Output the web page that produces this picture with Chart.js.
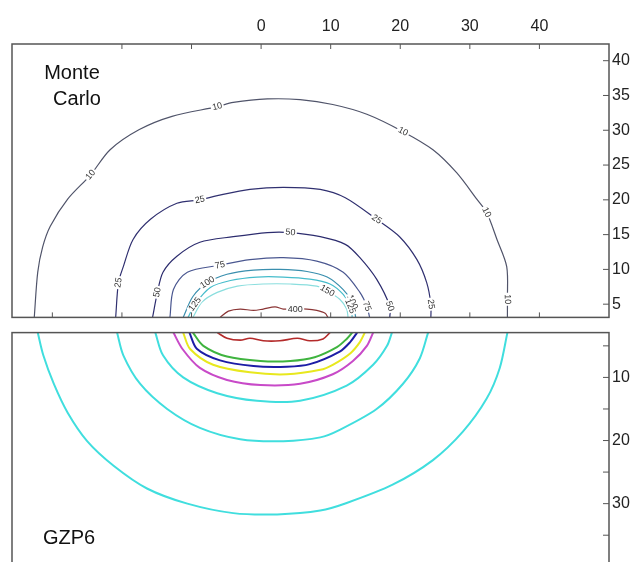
<!DOCTYPE html>
<html>
<head>
<meta charset="utf-8">
<script src="https://cdn.jsdelivr.net/npm/chart.js@4.4.1/dist/chart.umd.min.js"></script>
<style>
  html, body { margin: 0; padding: 0; background: #fff; overflow: hidden; }
  #quadro { position: relative; width: 639px; height: 562px; overflow: hidden; }
  #topo { position: absolute; left: 0; top: 0; }
  #baixo { position: absolute; left: 0; top: 320px; }
</style>
</head>
<body>
<div id="quadro">
  <canvas id="topo" width="639" height="330"></canvas>
  <canvas id="baixo" width="639" height="260"></canvas>
</div>
<script>
// Monte Carlo (painel de cima): curvas de isodose [x, profundidade]
const mcNiveis = [10, 25, 50, 75, 100, 125, 150, 400];
const mc10 = [[-32.6,3.1],[-32.1,9.6],[-31.4,13.2],[-30.3,16.2],[-27.8,20.1],[-24.5,23.6],[-21.7,27.2],[-17.5,30.1],[-12.8,32.0],[-6.3,33.4],[-4.0,34.0],[0.9,34.5],[5.6,34.4],[10.3,33.7],[15.2,32.3],[20.4,29.8],[24.7,27.2],[28.1,23.9],[31.0,20.1],[32.4,18.2],[33.9,14.3],[35.3,10.4],[35.4,5.7],[35.4,3.1]];
const mc25 = [[-20.9,3.1],[-20.5,8.1],[-19.8,10.4],[-18.4,14.3],[-15.9,17.2],[-12.1,19.5],[-8.8,20.0],[-6.3,20.6],[-1.6,21.5],[3.2,21.8],[8.5,21.5],[12.1,20.3],[16.6,17.2],[19.9,14.7],[22.4,11.4],[23.8,8.1],[24.4,5.0],[24.4,3.1]];
const mc50 = [[-15.6,3.1],[-14.9,6.7],[-14.1,9.6],[-12.1,11.9],[-8.8,13.9],[-4.0,14.7],[0.9,15.3],[4.2,15.3],[8.5,14.7],[12.1,13.6],[14.2,11.7],[16.6,8.6],[18.5,4.7],[18.5,3.1]];
const mc75 = [[-13.1,3.1],[-12.6,7.1],[-10.6,9.6],[-5.9,10.6],[-1.6,11.4],[3.2,11.7],[8.0,11.2],[11.8,9.6],[14.2,6.7],[15.2,4.7],[15.6,3.1]];
const mc100 = [[-11.2,3.1],[-9.8,6.1],[-7.7,8.1],[-4.9,9.3],[-1.1,9.9],[2.7,10.0],[6.6,9.7],[9.5,8.9],[11.8,7.1],[13.1,5.3],[13.6,3.1]];
const mc125 = [[-10.5,3.1],[-9.5,5.0],[-7.3,7.4],[-4.4,8.4],[-0.6,8.9],[3.2,8.9],[7.0,8.6],[9.9,7.9],[11.8,6.4],[12.8,4.7],[13.1,3.1]];
const mc150 = [[-9.8,3.1],[-8.5,5.3],[-6.3,6.7],[-3.4,7.6],[0.3,7.9],[4.2,7.9],[8.0,7.6],[9.5,6.9],[11.3,5.7],[12.3,4.3],[12.5,3.1]];
const mc400 = [[-5.9,3.1],[-4.7,4.0],[-3.0,4.3],[-1.1,4.1],[0.3,4.3],[2.0,4.6],[3.2,4.3],[4.9,4.3],[6.6,4.3],[8.0,4.1],[9.2,3.7],[9.6,3.1]];
// rotulos: [nivel, indice do ponto]
const mcRotulos = [[10,5],[10,9],[10,15],[10,19],[10,22],[25,1],[25,6],[25,12],[25,16],[50,1],[50,7],[50,12],[75,3],[75,9],[100,2],[100,9],[125,1],[125,9],[150,7],[400,7]];

// GZP6 (painel de baixo)
const gzCiano1 = [[-32.1,2.9],[-31.3,6.5],[-29.8,11.0],[-27.8,15.6],[-25.0,20.1],[-21.2,24.0],[-16.4,27.6],[-10.6,30.0],[-4.0,31.5],[2.3,31.7],[8.5,31.1],[12.3,29.9],[18.9,27.0],[24.7,23.1],[29.0,18.6],[32.4,13.4],[34.3,8.5],[35.4,2.9]];
const gzCiano2 = [[-20.7,2.9],[-19.8,6.5],[-17.4,11.0],[-13.5,15.0],[-8.8,18.0],[-3.0,19.8],[3.2,20.1],[8.5,19.5],[11.3,18.3],[16.6,15.0],[20.4,11.0],[22.8,7.0],[24.0,2.9]];
const gzCiano3 = [[-15.2,2.9],[-14.1,6.5],[-11.2,10.0],[-6.3,12.5],[-0.6,13.7],[5.6,13.7],[12.3,11.3],[16.1,8.0],[18.1,5.0],[18.8,2.9]];
const gzMagenta = [[-12.6,2.9],[-11.3,5.5],[-8.8,8.5],[-4.9,10.4],[-0.1,11.2],[5.6,11.0],[10.3,9.5],[13.2,7.4],[15.2,5.0],[16.1,2.9]];
const gzAmarelo = [[-11.2,2.9],[-10.2,5.5],[-6.9,8.0],[-1.6,9.2],[3.7,9.5],[8.5,8.8],[10.3,8.0],[12.8,6.2],[14.2,4.4],[14.9,2.9]];
const gzAzul = [[-10.3,2.9],[-9.2,5.5],[-5.9,7.3],[-1.1,8.2],[3.7,8.3],[7.0,7.9],[11.3,5.9],[12.8,4.4],[13.8,2.9]];
const gzVerde = [[-9.8,2.9],[-8.3,5.0],[-4.9,6.7],[-0.1,7.4],[4.2,7.4],[7.7,6.8],[10.9,5.2],[12.3,3.9],[13.1,2.9]];
const gzVermelho = [[-6.3,2.9],[-4.9,3.8],[-3.0,4.1],[-1.6,3.8],[0.3,4.2],[2.7,4.2],[5.2,3.8],[7.0,4.2],[8.9,3.9],[9.9,2.9]];

const fonte = "'Liberation Sans', Arial, sans-serif";
Chart.defaults.font.family = fonte;
Chart.defaults.color = '#222';

const mcCurvas = { 10: mc10, 25: mc25, 50: mc50, 75: mc75, 100: mc100, 125: mc125, 150: mc150, 400: mc400 };
const mcCores = { 10: '#50546a', 25: '#303070', 50: '#2c2c6e', 75: '#4a5790', 100: '#3a8fae', 125: '#45bccb', 150: '#8adede', 400: '#8b3535' };

function pontos(lista) {
    return lista.map(p => ({ x: p[0], y: p[1] }));
}

function curva(lista, cor, largura) {
    return {
        data: pontos(lista),
        showLine: true,
        borderColor: cor,
        borderWidth: largura,
        pointRadius: 0,
        tension: 0.3,
        fill: false
    };
}

// moldura + tracinhos para dentro
const moldura = {
    id: 'moldura',
    afterDraw(chart, args, opts) {
        const { ctx, chartArea: a, scales } = chart;
        ctx.save();
        ctx.strokeStyle = '#555';
        ctx.lineWidth = 1.5;
        ctx.strokeRect(a.left, a.top, a.right - a.left, a.bottom - a.top);
        ctx.lineWidth = 1;
        scales.y.ticks.forEach(t => {
            const py = scales.y.getPixelForValue(t.value);
            ctx.beginPath();
            ctx.moveTo(a.right, py);
            ctx.lineTo(a.right - 6, py);
            ctx.stroke();
        });
        if (opts.tracosX) {
            scales.x.ticks.forEach(t => {
                const px = scales.x.getPixelForValue(t.value);
                if (px <= a.left + 2 || px >= a.right - 2) return;
                if (t.value >= -20) {
                    ctx.beginPath();
                    ctx.moveTo(px, a.top);
                    ctx.lineTo(px, a.top + 5);
                    ctx.stroke();
                }
                ctx.beginPath();
                ctx.moveTo(px, a.bottom);
                ctx.lineTo(px, a.bottom - 5);
                ctx.stroke();
            });
        }
        ctx.fillStyle = '#111';
        ctx.font = '20px ' + fonte;
        ctx.textBaseline = 'middle';
        (opts.textos || []).forEach(t => {
            ctx.textAlign = t.alinha || 'center';
            ctx.fillText(t.texto, t.x, t.y);
        });
        ctx.restore();
    }
};

// rotulos das isodoses (estilo clabel)
const rotulos = {
    id: 'rotulos',
    afterDatasetsDraw(chart) {
        const { ctx, scales: { x, y } } = chart;
        ctx.save();
        ctx.font = '9px ' + fonte;
        ctx.textAlign = 'center';
        ctx.textBaseline = 'middle';
        mcRotulos.forEach(([nivel, i]) => {
            const c = mcCurvas[nivel];
            const p = c[i];
            const a = c[Math.max(i - 1, 0)];
            const b = c[Math.min(i + 1, c.length - 1)];
            const px = x.getPixelForValue(p[0]);
            const py = y.getPixelForValue(p[1]);
            let ang = Math.atan2(y.getPixelForValue(b[1]) - y.getPixelForValue(a[1]),
                                 x.getPixelForValue(b[0]) - x.getPixelForValue(a[0]));
            if (ang > Math.PI / 2) ang -= Math.PI;
            if (ang < -Math.PI / 2) ang += Math.PI;
            const txt = String(nivel);
            const w = ctx.measureText(txt).width + 3;
            ctx.save();
            ctx.translate(px, py);
            ctx.rotate(ang);
            ctx.fillStyle = '#fff';
            ctx.fillRect(-w / 2, -4, w, 8);
            ctx.fillStyle = '#333';
            ctx.fillText(txt, 0, 0);
            ctx.restore();
        });
        ctx.restore();
    }
};

new Chart(document.getElementById('topo'), {
    type: 'scatter',
    data: {
        datasets: mcNiveis.map(n => curva(mcCurvas[n], mcCores[n], 1.2))
    },
    options: {
        responsive: false,
        animation: false,
        layout: { padding: { left: 12, top: 0, right: 0, bottom: 12 } },
        plugins: {
            legend: { display: false },
            tooltip: { enabled: false },
            moldura: {
                tracosX: true,
                textos: [
                    { texto: 'Monte', x: 72, y: 73 },
                    { texto: 'Carlo', x: 77, y: 99 }
                ]
            }
        },
        scales: {
            x: {
                type: 'linear', position: 'top', min: -35.8, max: 50,
                grid: { display: false, drawTicks: false },
                border: { display: false },
                ticks: {
                    stepSize: 10, includeBounds: false, padding: 8, maxRotation: 0, autoSkip: false,
                    font: { size: 16 },
                    callback: v => (v >= 0 && v <= 40) ? v : ''
                },
                afterFit: s => { s.height = 44; }
            },
            y: {
                type: 'linear', position: 'right', min: 3.1, max: 42.4,
                grid: { display: false, drawTicks: false },
                border: { display: false },
                ticks: { stepSize: 5, includeBounds: false, padding: 3, autoSkip: false, font: { size: 16 } },
                afterFit: s => { s.width = 30; }
            }
        }
    },
    plugins: [moldura, rotulos]
});

new Chart(document.getElementById('baixo'), {
    type: 'scatter',
    data: {
        datasets: [
            curva(gzCiano1, '#40dede', 2),
            curva(gzCiano2, '#40dede', 2),
            curva(gzCiano3, '#40dede', 2),
            curva(gzMagenta, '#c84ac8', 2),
            curva(gzAmarelo, '#e8e81e', 2),
            curva(gzAzul, '#1c1ca6', 2),
            curva(gzVerde, '#3fb43f', 2),
            curva(gzVermelho, '#b42a2a', 1.6)
        ]
    },
    options: {
        responsive: false,
        animation: false,
        layout: { padding: { left: 12, top: 8, right: 0, bottom: 5 } },
        plugins: {
            legend: { display: false },
            tooltip: { enabled: false },
            moldura: {
                tracosX: false,
                textos: [{ texto: 'GZP6', x: 43, y: 218, alinha: 'left' }]
            }
        },
        scales: {
            x: { type: 'linear', display: false, min: -35.8, max: 50 },
            y: {
                type: 'linear', position: 'right', reverse: true, min: 2.9, max: 40.1,
                grid: { display: false, drawTicks: false },
                border: { display: false },
                ticks: {
                    stepSize: 5, includeBounds: false, padding: 3, autoSkip: false,
                    font: { size: 16 },
                    callback: v => (v === 10 || v === 20 || v === 30) ? v : ''
                },
                afterFit: s => { s.width = 30; }
            }
        }
    },
    plugins: [moldura]
});
</script>
</body>
</html>
